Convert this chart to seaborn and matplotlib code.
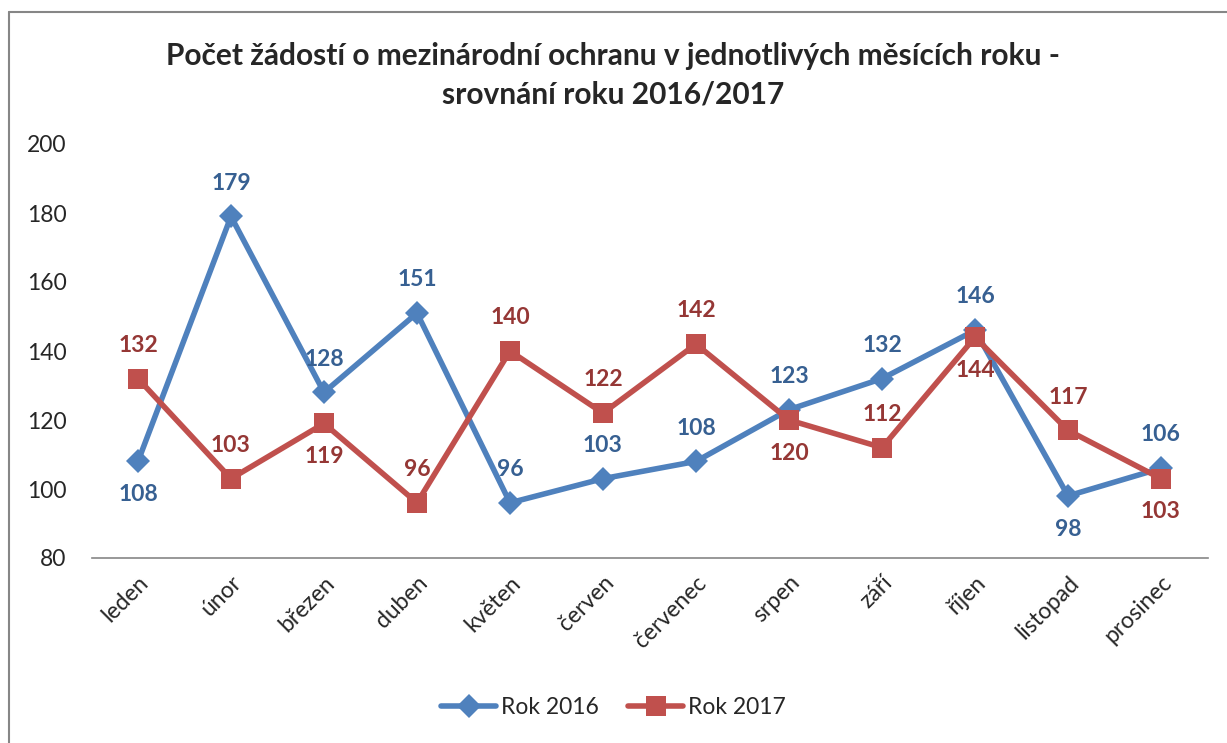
import matplotlib
matplotlib.use("Agg")
import matplotlib.pyplot as plt
import seaborn as sns
import pandas as pd
from matplotlib.lines import Line2D

# data
months = ["leden", "únor", "březen", "duben", "květen", "červen",
          "červenec", "srpen", "září", "říjen", "listopad", "prosinec"]
rok_2016 = [108, 179, 128, 151, 96, 103, 108, 123, 132, 146, 98, 106]
rok_2017 = [132, 103, 119, 96, 140, 122, 142, 120, 112, 144, 117, 103]
# label side: 1 = above the point, -1 = below
side_2016 = [-1, 1, 1, 1, 1, 1, 1, 1, 1, 1, -1, 1]
side_2017 = [1, 1, -1, 1, 1, 1, 1, -1, 1, -1, 1, -1]

title = "Počet žádostí o mezinárodní ochranu v jednotlivých měsících roku -\nsrovnání roku 2016/2017"

blue, red = "#4F81BD", "#C0504D"
blue_txt, red_txt = "#376092", "#953735"

sns.set_style("white")
plt.rcParams["font.family"] = ["Lato", "DejaVu Sans"]

df = pd.DataFrame({
    "pos": list(range(len(months))) * 2,
    "value": rok_2016 + rok_2017,
    "rok": ["Rok 2016"] * len(months) + ["Rok 2017"] * len(months),
})

fig = plt.figure(figsize=(12.27, 7.43), dpi=100)
ax = fig.add_axes([91.5 / 1227, 1 - 558 / 743, 1116 / 1227, 414 / 743])

lw = 4
sns.lineplot(data=df[df.rok == "Rok 2016"], x="pos", y="value", color=blue,
             linewidth=lw, marker="D", markersize=12, markeredgewidth=0,
             ax=ax, legend=False)
sns.lineplot(data=df[df.rok == "Rok 2017"], x="pos", y="value", color=red,
             linewidth=lw, marker="s", markersize=14, markeredgewidth=0,
             ax=ax, legend=False)

for vals, sides, col in [(rok_2016, side_2016, blue_txt), (rok_2017, side_2017, red_txt)]:
    for i, (v, s) in enumerate(zip(vals, sides)):
        ax.annotate(str(v), (i, v), xytext=(0, 24 * s), textcoords="offset points",
                    ha="center", va="center", fontsize=16.5, fontweight="bold", color=col)

ax.set_xlim(-0.5, len(months) - 0.5)
ax.set_ylim(80, 200)
ax.set_yticks(range(80, 201, 20))
ax.set_xticks(range(len(months)))
ax.set_xticklabels(months, rotation=45, ha="right", rotation_mode="anchor")
ax.tick_params(axis="both", labelsize=16.5, length=0, pad=10)
ax.tick_params(axis="y", pad=18)
ax.set_xlabel("")
ax.set_ylabel("")
for sp in ["top", "right", "left"]:
    ax.spines[sp].set_visible(False)
ax.spines["bottom"].set_color("#868686")
ax.spines["bottom"].set_linewidth(1.2)

fig.text(0.5, 1 - 75 / 743, title, ha="center", va="center", fontsize=21.5,
         fontweight="bold", linespacing=1.45)

handles = [
    Line2D([], [], color=blue, linewidth=lw, marker="D", markersize=12, markeredgewidth=0),
    Line2D([], [], color=red, linewidth=lw, marker="s", markersize=14, markeredgewidth=0),
]
fig.legend(handles, ["Rok 2016", "Rok 2017"], loc="center", bbox_to_anchor=(0.5, 1 - 708 / 743),
           ncol=2, frameon=False, fontsize=16.5, handlelength=2.4, columnspacing=1.3,
           handletextpad=0.2)

# chart border
fig.add_artist(Line2D([9 / 1227, 9 / 1227], [0, 1 - 12 / 743], color="#868686", linewidth=1.5))
fig.add_artist(Line2D([9 / 1227, 1], [1 - 12 / 743, 1 - 12 / 743], color="#868686", linewidth=1.5))

fig.savefig("out.png", dpi=100)
